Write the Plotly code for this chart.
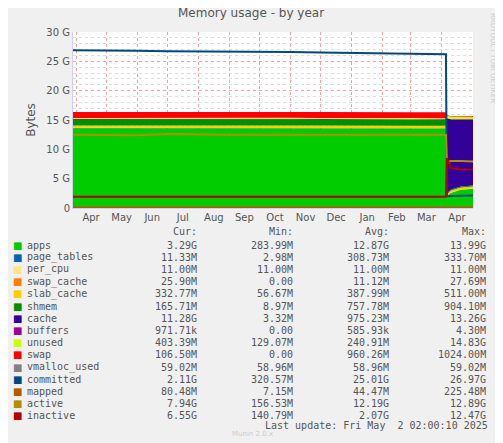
import plotly.graph_objects as go

# Sample dates (year view)
dates = ["2024-03-29", "2024-05-01", "2024-06-01", "2024-07-01", "2024-08-01",
         "2024-09-01", "2024-10-01", "2024-11-01", "2024-12-01", "2025-01-01",
         "2025-02-01", "2025-03-01", "2025-04-05", "2025-04-06", "2025-04-10",
         "2025-04-20", "2025-05-02"]

# Stacked areas, values in G
apps        = [13.6, 13.6, 13.55, 13.6, 13.6, 13.6, 13.6, 13.6, 13.6, 13.6, 13.55, 13.55, 13.55, 2.0, 2.6, 3.1, 3.29]
page_tables = [0.03] * 13 + [0.011] * 4
per_cpu     = [0.011] * 17
swap_cache  = [0.02] * 13 + [0.026] * 4
slab_cache  = [0.4, 0.42, 0.4, 0.42, 0.4, 0.42, 0.4, 0.42, 0.4, 0.42, 0.4, 0.42, 0.4, 0.3, 0.32, 0.33, 0.333]
shmem       = [1.0] * 13 + [0.17, 0.17, 0.166, 0.166]
cache       = [0.1] * 13 + [12.8, 12.0, 11.5, 11.28]
buffers     = [0.001] * 17
unused      = [0.2] * 13 + [0.45, 0.42, 0.41, 0.403]
swap        = [1.0] * 13 + [0.1, 0.1, 0.1, 0.1065]

# Lines, values in G
vmalloc_used = [0.059] * 17
committed    = [26.9, 26.9, 26.8, 26.7, 26.7, 26.6, 26.6, 26.6, 26.5, 26.4, 26.3, 26.2, 26.2, 2.0, 2.05, 2.1, 2.11]
mapped       = [0.08] * 17
active       = [12.5, 12.5, 12.4, 12.6, 12.5, 12.5, 12.5, 12.5, 12.5, 12.5, 12.5, 12.5, 12.5, 7.8, 8.0, 8.0, 7.94]
inactive     = [1.9, 1.9, 1.9, 1.9, 1.9, 1.9, 1.9, 1.9, 1.9, 1.9, 1.9, 1.9, 1.9, 8.5, 6.8, 6.6, 6.55]

names  = ["apps", "page_tables", "per_cpu", "swap_cache", "slab_cache", "shmem", "cache",
          "buffers", "unused", "swap", "vmalloc_used", "committed", "mapped", "active", "inactive"]
colors = ["#00CC00", "#0066B3", "#FFE680", "#FF8000", "#FFCC00", "#008F00", "#330099",
          "#990099", "#CCFF00", "#FF0000", "#808080", "#00487D", "#B35A00", "#B38F00", "#B30000"]
cur = ["3.29G", "11.33M", "11.00M", "25.90M", "332.77M", "165.71M", "11.28G", "971.71k",
       "403.39M", "106.50M", "59.02M", "2.11G", "80.48M", "7.94G", "6.55G"]
mins = ["283.99M", "2.98M", "11.00M", "0.00", "56.67M", "8.97M", "3.32M", "0.00",
        "129.07M", "0.00", "58.96M", "320.57M", "7.15M", "156.53M", "140.79M"]
avgs = ["12.87G", "308.73M", "11.00M", "11.12M", "387.99M", "757.78M", "975.23M", "585.93k",
        "240.91M", "960.26M", "58.96M", "25.01G", "44.47M", "12.19G", "2.07G"]
maxs = ["13.99G", "333.70M", "11.00M", "27.69M", "511.00M", "904.10M", "13.26G", "4.30M",
        "14.83G", "1024.00M", "59.02M", "26.97G", "225.48M", "12.89G", "12.47G"]

areas = [apps, page_tables, per_cpu, swap_cache, slab_cache, shmem, cache, buffers, unused, swap]
lines = [vmalloc_used, committed, mapped, active, inactive]

fig = go.Figure()
for i, vals in enumerate(areas):
    fig.add_trace(go.Scatter(x=dates, y=vals, stackgroup="mem", mode="lines",
                             line=dict(width=0, color=colors[i]), fillcolor=colors[i],
                             name=names[i]))
for j, vals in enumerate(lines):
    i = len(areas) + j
    fig.add_trace(go.Scatter(x=dates, y=vals, mode="lines",
                             line=dict(width=2, color=colors[i]), name=names[i]))

# page body has an 8px margin, so the figure is drawn 8px smaller and shifted
OFF = 8
W, H = 503 - OFF, 443 - OFF
# plot area in reference pixels: x 73..473, y 32..208
L, R, T, B = 73, 473, 32, 208


def px(x):
    return (x - L) / (R - L)


def py(y):
    return (B - y) / (B - T)


def label(text, x, y, anchor="left", size=10, color="#555555", family="DejaVu Sans Mono", angle=0):
    return dict(text=text, x=px(x), y=py(y), xref="paper", yref="paper",
                xanchor=anchor, yanchor="middle", showarrow=False, textangle=angle,
                font=dict(family=family, size=size, color=color))


cols_x = [199, 295, 391, 488]
ann = [label("Memory usage - by year", 251, 13, "center", 12, family="DejaVu Sans"),
       label("RRDTOOL / TOBI OETIKER", 493, 58, "center", 7, "#CCCCCC", "DejaVu Sans", 90)]
for k, h in enumerate(["Cur:", "Min:", "Avg:", "Max:"]):
    ann.append(label(h, cols_x[k], 232, "right"))
for r in range(len(names)):
    yy = 245 + r * 12.2
    ann.append(label("■", 11, yy, "left", 10, colors[r], "DejaVu Sans"))
    ann.append(label(names[r], 25, yy))
    for k, col in enumerate([cur, mins, avgs, maxs]):
        ann.append(label(col[r], cols_x[k], yy, "right"))
ann.append(label("Last update: Fri May  2 02:00:10 2025", 490, 425, "right"))
ann.append(label("Munin 2.0.x", 252, 434, "center", 7, "#CCCCCC", "DejaVu Sans"))

fig.update_layout(
    width=W, height=H,
    paper_bgcolor="#F0F0F0", plot_bgcolor="white",
    margin=dict(l=L - OFF, r=W - (R - OFF), t=T - OFF, b=H - (B - OFF), autoexpand=False),
    showlegend=False,
    annotations=ann,
    font=dict(family="DejaVu Sans", size=10, color="#555555"),
    xaxis=dict(range=["2024-03-29", "2025-05-02"], dtick="M1", tick0="2024-04-01",
               tickformat="%b", ticklabelmode="period", showgrid=True,
               gridcolor="#F2A0A0", griddash="dot", ticks="", zeroline=False,
               showline=True, linecolor="#D0D0F0"),
    yaxis=dict(range=[0, 30], tickvals=[0, 5, 10, 15, 20, 25, 30],
               ticktext=["0", "5 G", "10 G", "15 G", "20 G", "25 G", "30 G"],
               showgrid=True, gridcolor="#F2A0A0", griddash="dot", zeroline=False,
               title=dict(text="Bytes", standoff=8), showline=True, linecolor="#D0D0F0",
               minor=dict(tickvals=list(range(1, 30)), showgrid=True,
                          gridcolor="#DDDDDD", griddash="dot")),
)

fig.write_html("out.html")
